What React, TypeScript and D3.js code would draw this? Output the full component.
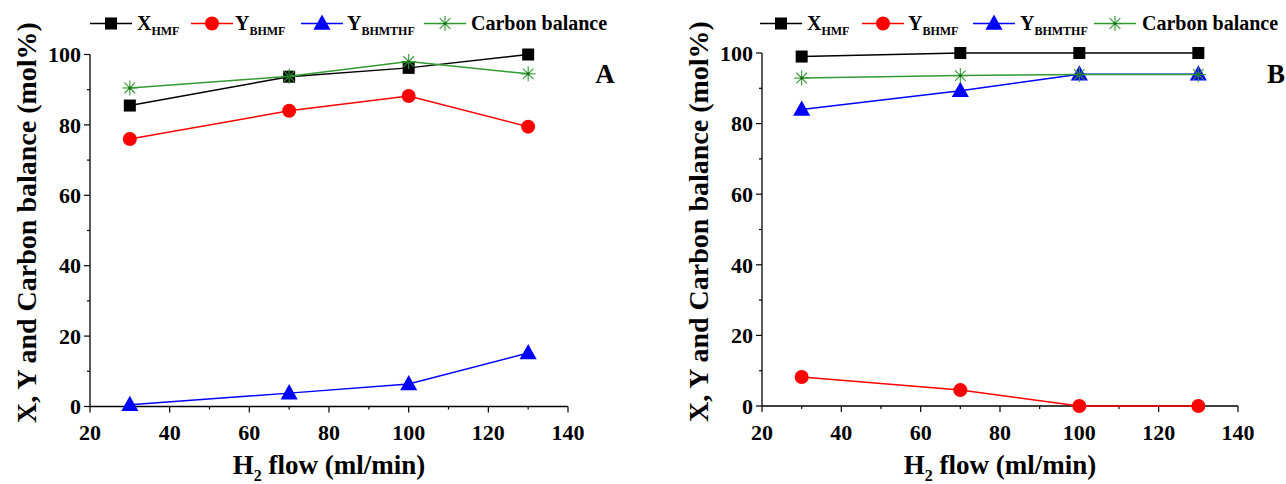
import React from "react";
import * as d3 from "d3";

// H2 flow (ml/min)
const flow = [30, 70, 100, 130];

// panel A
const xHmfA = [85.5, 93.7, 96.2, 100];
const yBhmfA = [76, 84, 88.2, 79.5];
const yBhmthfA = [0.5, 3.8, 6.4, 15.2];
const carbonA = [90.5, 93.8, 98, 94.5];

// panel B
const xHmfB = [99, 100, 100, 100];
const yBhmfB = [8.2, 4.5, 0, 0];
const yBhmthfB = [84, 89.3, 94, 94];
const carbonB = [92.9, 93.6, 93.9, 93.9];

const xTicks = [20, 40, 60, 80, 100, 120, 140];
const xMinor = [30, 50, 70, 90, 110, 130];
const yTicks = [0, 20, 40, 60, 80, 100];
const yMinor = [10, 30, 50, 70, 90];

const FONT = "Liberation Serif, Times New Roman, Times, DejaVu Serif, serif";
const GREEN = "#339933";

type Series = { name: string; sub: string; color: string; marker: string; values: number[] };

function Marker({ type, x, y, color }: { type: string; x: number; y: number; color: string }) {
  if (type === "square") {
    return <rect x={x - 6} y={y - 6} width={12} height={12} fill={color} />;
  }
  if (type === "circle") {
    return <circle cx={x} cy={y} r={7} fill={color} />;
  }
  if (type === "triangle") {
    const s = 9;
    return (
      <path
        d={`M${x},${y - s}L${x + s * 0.95},${y + s * 0.7}L${x - s * 0.95},${y + s * 0.7}Z`}
        fill={color}
      />
    );
  }
  // asterisk
  const r = 7.5;
  const d = r * Math.SQRT1_2;
  return (
    <g stroke={color} strokeWidth={1.1}>
      <line x1={x - r} y1={y} x2={x + r} y2={y} />
      <line x1={x} y1={y - r} x2={x} y2={y + r} />
      <line x1={x - d} y1={y - d} x2={x + d} y2={y + d} />
      <line x1={x - d} y1={y + d} x2={x + d} y2={y - d} />
      <circle cx={x} cy={y} r={1.5} fill="#1a6a1a" stroke="none" />
    </g>
  );
}

function Panel({
  series,
  xr,
  yr,
  letter,
  letterX,
  legendX,
  titleX,
}: {
  series: Series[];
  xr: [number, number];
  yr: [number, number];
  letter: string;
  letterX: number;
  legendX: { line: number; text: number }[];
  titleX: number;
}) {
  const x = d3.scaleLinear().domain([20, 140]).range(xr);
  const y = d3.scaleLinear().domain([0, 100]).range(yr);
  const line = d3
    .line<number>()
    .x((_, i) => x(flow[i]))
    .y((v) => y(v));

  return (
    <g style={{ fontFamily: FONT }} fontWeight="bold">
      {/* axes */}
      <line x1={xr[0]} y1={yr[0]} x2={xr[1]} y2={yr[0]} stroke="#000" strokeWidth={1.3} />
      <line x1={xr[0]} y1={yr[0]} x2={xr[0]} y2={yr[1]} stroke="#000" strokeWidth={1.3} />
      {xTicks.map((t) => (
        <g key={"xt" + t}>
          <line x1={x(t)} x2={x(t)} y1={yr[0]} y2={yr[0] + 6} stroke="#000" strokeWidth={1.2} />
          <text x={x(t)} y={440} fontSize={22} textAnchor="middle">
            {t}
          </text>
        </g>
      ))}
      {xMinor.map((t) => (
        <line key={"xm" + t} x1={x(t)} x2={x(t)} y1={yr[0]} y2={yr[0] + 3} stroke="#000" strokeWidth={1.2} />
      ))}
      {yTicks.map((t) => (
        <g key={"yt" + t}>
          <line x1={xr[0] - 6} x2={xr[0]} y1={y(t)} y2={y(t)} stroke="#000" strokeWidth={1.2} />
          <text x={xr[0] - 9} y={y(t)} dy="0.35em" fontSize={22} textAnchor="end">
            {t}
          </text>
        </g>
      ))}
      {yMinor.map((t) => (
        <line key={"ym" + t} x1={xr[0] - 3} x2={xr[0]} y1={y(t)} y2={y(t)} stroke="#000" strokeWidth={1.2} />
      ))}

      {/* axis titles */}
      <text x={(xr[0] + xr[1]) / 2} y={474} fontSize={27} textAnchor="middle">
        H<tspan fontSize={16} dy={7}>2</tspan>
        <tspan dy={-7}> flow (ml/min)</tspan>
      </text>
      <text
        transform={`translate(${titleX},${(yr[0] + yr[1]) / 2 - 8}) rotate(-90)`}
        fontSize={28}
        textAnchor="middle"
      >
        X, Y and Carbon balance (mol%)
      </text>

      {/* series */}
      {series.map((s) => (
        <g key={s.name + s.sub}>
          <path d={line(s.values) || ""} fill="none" stroke={s.color} strokeWidth={1.5} />
          {s.values.map((v, i) => (
            <Marker key={i} type={s.marker} x={x(flow[i])} y={y(v)} color={s.color} />
          ))}
        </g>
      ))}

      <text x={letterX} y={83} fontSize={27} textAnchor="middle">
        {letter}
      </text>

      {/* legend */}
      {series.map((s, i) => (
        <g key={"lg" + i}>
          <line
            x1={legendX[i].line}
            x2={legendX[i].line + 42}
            y1={23.5}
            y2={23.5}
            stroke={s.color}
            strokeWidth={1.5}
          />
          <Marker type={s.marker} x={legendX[i].line + 21} y={23.5} color={s.color} />
          <text x={legendX[i].text} y={30} fontSize={20}>
            {s.name}
            {s.sub && (
              <tspan fontSize={12} dy={5}>
                {s.sub}
              </tspan>
            )}
          </text>
        </g>
      ))}
    </g>
  );
}

export default function App() {
  const seriesA: Series[] = [
    { name: "X", sub: "HMF", color: "#000", marker: "square", values: xHmfA },
    { name: "Y", sub: "BHMF", color: "#ff0000", marker: "circle", values: yBhmfA },
    { name: "Y", sub: "BHMTHF", color: "#0000ff", marker: "triangle", values: yBhmthfA },
    { name: "Carbon balance", sub: "", color: GREEN, marker: "asterisk", values: carbonA },
  ];
  const seriesB: Series[] = [
    { name: "X", sub: "HMF", color: "#000", marker: "square", values: xHmfB },
    { name: "Y", sub: "BHMF", color: "#ff0000", marker: "circle", values: yBhmfB },
    { name: "Y", sub: "BHMTHF", color: "#0000ff", marker: "triangle", values: yBhmthfB },
    { name: "Carbon balance", sub: "", color: GREEN, marker: "asterisk", values: carbonB },
  ];
  return (
    <svg
      width={1286}
      height={484}
      style={{ position: "absolute", left: 0, top: 0, background: "#fff" }}
    >
      <rect width={1286} height={484} fill="#fff" />
      <Panel
        series={seriesA}
        xr={[90, 568]}
        yr={[406.5, 54.5]}
        letter="A"
        letterX={605}
        titleX={36}
        legendX={[
          { line: 90, text: 137 },
          { line: 191, text: 235 },
          { line: 301, text: 347 },
          { line: 424, text: 471 },
        ]}
      />
      <Panel
        series={seriesB}
        xr={[762, 1238]}
        yr={[406, 53]}
        letter="B"
        letterX={1276}
        titleX={708}
        legendX={[
          { line: 760, text: 807 },
          { line: 862, text: 908 },
          { line: 973, text: 1020 },
          { line: 1094, text: 1142 },
        ]}
      />
    </svg>
  );
}
